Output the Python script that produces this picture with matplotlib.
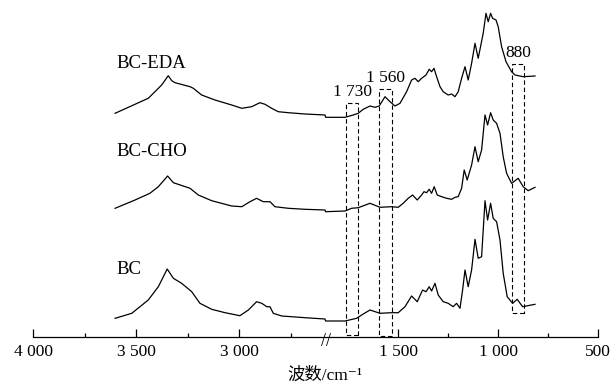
import numpy as np
import matplotlib
matplotlib.use("Agg")
import matplotlib.pyplot as plt
from matplotlib.patches import Rectangle

FAMILY = ['Liberation Serif', 'DejaVu Serif', 'Noto Sans CJK SC']
plt.rcParams['font.family'] = FAMILY

# ---------------- data (wavenumber cm-1, stacked intensity, a.u.) ----------------
series_names = ["BC-EDA", "BC-CHO", "BC"]

wn_eda = [3603, 3442, 3401, 3377, 3345, 3328, 3312, 3239, 3223, 3183, 3118, 3037, 2988,
          2940, 2900, 2875, 2843, 2811, 2762, 2681, 2584,
          1862, 1815, 1765, 1724, 1699, 1674, 1640, 1615, 1594, 1565, 1540, 1515, 1490,
          1457, 1432, 1415, 1399, 1382, 1360, 1344, 1332, 1320, 1307, 1290, 1274, 1249,
          1232, 1215, 1199, 1182, 1165, 1149, 1132, 1115, 1099, 1074, 1060, 1049, 1037,
          1027, 1010, 999, 982, 960, 932, 915, 874, 815]
ab_eda = [223.7, 238.7, 247.0, 252.0, 261.3, 256.3, 254.3, 250.3, 248.7, 242.0, 237.0, 232.0, 228.7,
          230.3, 234.3, 232.7, 228.7, 225.3, 224.3, 223.0, 222.0,
          219.7, 219.7, 219.7, 222.0, 223.7, 227.7, 231.0, 229.7, 231.0, 240.3, 235.3, 231.0, 233.7,
          245.3, 257.0, 258.7, 255.3, 258.7, 262.0, 267.7, 265.3, 268.7, 260.3, 250.3, 245.3, 242.0,
          243.0, 240.3, 245.3, 258.7, 270.3, 257.0, 273.7, 293.7, 278.7, 303.7, 323.7, 315.3, 323.7,
          318.7, 317.0, 310.3, 290.3, 275.3, 265.3, 262.0, 260.3, 261.0]

wn_cho = [3603, 3506, 3434, 3393, 3348, 3320, 3239, 3199, 3134, 3037, 2988, 2948, 2916,
          2884, 2851, 2827, 2762, 2681, 2584,
          1862, 1765, 1732, 1699, 1640, 1590, 1532, 1499, 1474, 1449, 1427, 1404, 1382,
          1370, 1357, 1344, 1332, 1319, 1304, 1282, 1257, 1232, 1215, 1199, 1182, 1169,
          1154, 1132, 1115, 1099, 1082, 1065, 1052, 1037, 1024, 1007, 990, 974, 957, 932,
          899, 874, 849, 815]
ab_cho = [128.7, 137.0, 143.7, 150.3, 161.0, 154.3, 148.7, 142.0, 136.3, 131.0, 130.3, 135.3, 138.7,
          135.3, 135.3, 130.3, 128.7, 127.7, 127.0,
          125.3, 126.0, 128.7, 129.3, 133.7, 129.7, 130.3, 129.7, 133.7, 138.7, 142.0, 137.0, 142.0,
          145.3, 144.3, 147.7, 143.7, 150.3, 142.0, 140.3, 138.7, 137.7, 139.7, 140.3, 148.7, 167.0,
          157.0, 172.0, 190.3, 175.3, 187.0, 222.0, 212.0, 224.3, 217.0, 213.7, 203.7, 180.3, 163.7, 153.7,
          158.7, 150.3, 146.3, 149.7]

wn_bc = [3603, 3522, 3442, 3393, 3350, 3320, 3280, 3231, 3191, 3134, 3069, 2997, 2956,
         2916, 2891, 2867, 2851, 2835, 2794, 2681, 2584,
         1862, 1765, 1707, 1674, 1640, 1590, 1532, 1499, 1465, 1432, 1404, 1377, 1360,
         1344, 1332, 1315, 1299, 1274, 1249, 1224, 1207, 1190, 1177, 1165, 1149, 1132,
         1115, 1099, 1082, 1065, 1052, 1037, 1024, 1007, 990, 974, 954, 927, 904, 877, 815]
ab_bc = [18.7, 23.7, 37.0, 50.3, 68.0, 58.7, 53.7, 45.3, 33.7, 27.7, 24.3, 21.3, 27.0,
         35.3, 33.7, 30.3, 30.3, 23.7, 21.0, 19.3, 18.0,
         16.0, 16.0, 18.7, 23.0, 27.0, 23.7, 24.3, 24.3, 30.3, 41.0, 35.3, 47.0, 45.3,
         50.3, 46.0, 53.7, 42.0, 35.3, 33.7, 30.3, 33.7, 28.7, 47.0, 67.0, 50.3, 67.0,
         97.7, 78.7, 80.3, 136.3, 117.0, 133.7, 118.7, 115.3, 97.0, 63.7, 40.3, 33.7, 37.7, 30.3, 32.7]

major_ticks = [4000, 3500, 3000, 1500, 1000, 500]
major_labels = ["4 000", "3 500", "3 000", "1 500", "1 000", "500"]
minor_ticks = [3750, 3250, 2750, 1250, 750]

# marked bands: label, (high wn, low wn), (bottom, top)
band_labels = ["1 730", "1 560", "880"]
band_ranges = [(1761, 1699), (1593, 1529), (931, 870)]
band_heights = [(2, 234), (1, 248), (24, 273)]

# ---------------- broken wavenumber axis ----------------
W_LEFT_END = 2581.0     # left segment: 4000 -> 2581
W_RIGHT_START = 1862.0  # right segment: 1862 -> 450
S1, S2 = 0.206, 0.200
U_BREAK = (4000 - W_LEFT_END) * S1


def fwd(w):
    # increasing function of wavenumber (negative pixel offset from 4000)
    w = np.asarray(w, dtype=float)
    left = (4000 - w) * S1
    right = U_BREAK + (W_RIGHT_START - w) * S2
    u = np.where(w >= W_LEFT_END, left, np.where(w <= W_RIGHT_START, right, U_BREAK))
    return -u


def inv(v):
    u = -np.asarray(v, dtype=float)
    return np.where(u <= U_BREAK, 4000 - u / S1, W_RIGHT_START - (u - U_BREAK) / S2)


fig = plt.figure(figsize=(6.14, 3.85), dpi=100)
ax = fig.add_axes([33.3 / 614, 48 / 385, (608 - 33.3) / 614, 337 / 385])
ax.set_xscale('function', functions=(fwd, inv))
ax.set_xlim(4000, 450)
ax.set_ylim(0, 337)

for wn, ab in [(wn_eda, ab_eda), (wn_cho, ab_cho), (wn_bc, ab_bc)]:
    ax.plot(wn, ab, color='black', lw=0.9, solid_joinstyle='round')

# series labels
label_y = [273, 186, 68]
for name, y in zip(series_names, label_y):
    ax.text(3595, y, name, fontsize=13.5, ha='left', va='center')

# dashed boxes for marked bands
for lab, (w_hi, w_lo), (b, t) in zip(band_labels, band_ranges, band_heights):
    ax.add_patch(Rectangle((w_lo, b), w_hi - w_lo, t - b, fill=False, ec='black',
                           lw=0.8, ls=(0, (4, 2.5))))
    ax.text((w_hi + w_lo) / 2, t + 3, lab, fontsize=12.5, ha='center', va='bottom')

# axes styling
for s in ['left', 'right', 'top']:
    ax.spines[s].set_visible(False)
ax.spines['bottom'].set_bounds(500, 4000)
ax.spines['bottom'].set_linewidth(0.9)
ax.set_yticks([])
ax.set_xticks(major_ticks)
ax.set_xticklabels(major_labels, fontsize=12.5)
ax.set_xticks(minor_ticks, minor=True)
ax.tick_params(axis='x', which='major', direction='in', length=6, width=0.9, pad=5)
ax.tick_params(axis='x', which='minor', direction='in', length=3, width=0.9)

# axis break mark
ax.text((W_LEFT_END + W_RIGHT_START) / 2, -0.012, "//", fontsize=13, ha='center', va='center',
        transform=ax.get_xaxis_transform(), clip_on=False)
ax.patch.set_alpha(0)

fig.text(325 / 614, 1 - 376 / 385, "波数/cm⁻¹", fontsize=12.5, ha='center', va='center',
         family=FAMILY)

fig.savefig("out.png", dpi=100)
